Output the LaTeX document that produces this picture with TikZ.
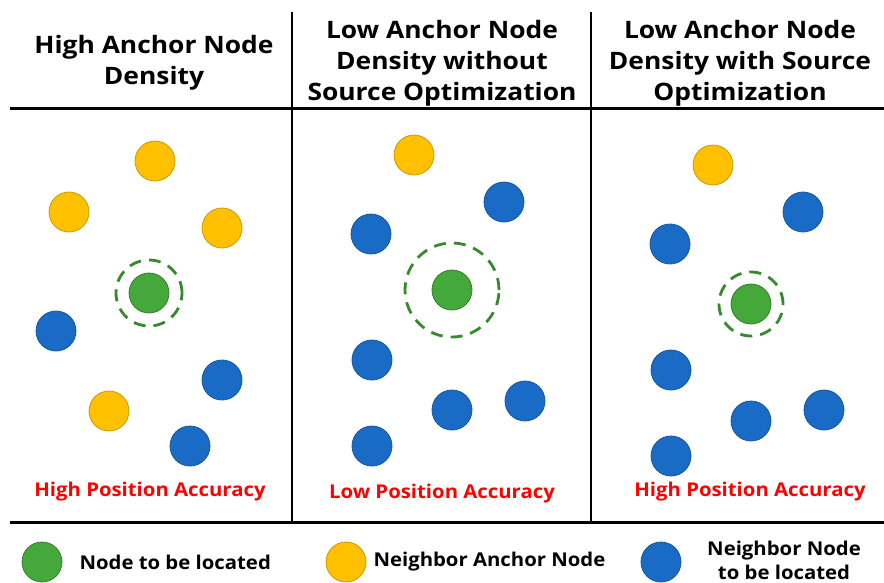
\documentclass[tikz,border=0pt]{standalone}
\usepackage{fontspec}
\setmainfont{Open Sans}
\newfontfamily\headfont[FakeStretch=1.1]{Open Sans}
\newfontfamily\notefont[FakeStretch=1.07]{Open Sans}
\begin{document}
\begin{tikzpicture}[x=1pt,y=-1pt,
  rule/.style={line width=3pt,black},
  dot/.style={circle,minimum size=40pt,inner sep=0pt,line width=0.8pt},
  target/.style={dot,fill=ngreen,draw=ngreen!75!black},
  beacon/.style={dot,fill=nyellow,draw=nyellow!80!black},
  unknown/.style={dot,fill=nblue,draw=nblue!80!black},
  ring/.style={circle,draw=rgreen,line width=2.8pt,dash pattern=on 12pt off 8pt,inner sep=0pt},
  title/.style={font=\headfont\bfseries\fontsize{24}{31}\selectfont,align=center},
  verdict/.style={font=\notefont\bfseries\fontsize{19}{20}\selectfont,text=red},
  legend/.style={font=\notefont\bfseries\fontsize{19}{24}\selectfont,align=center}]
\definecolor{ngreen}{HTML}{45A83A}
\definecolor{rgreen}{HTML}{358A2C}
\definecolor{nyellow}{HTML}{FFC000}
\definecolor{nblue}{HTML}{1A6BC6}
\useasboundingbox (0,0) rectangle (884,582);

% frame rules
\coordinate (v1t) at (292,12); \coordinate (v1b) at (292,521);
\coordinate (v2t) at (591,12); \coordinate (v2b) at (591,521);
\coordinate (htl) at (10,108); \coordinate (htr) at (884,108);
\coordinate (hbl) at (10,522); \coordinate (hbr) at (884,522);
\draw[rule] (htl) -- (htr);
\draw[rule] (hbl) -- (hbr);
\draw[rule,line width=2.4pt] (v1t) -- (v1b);
\draw[rule,line width=2.4pt] (v2t) -- (v2b);

% column headings
\node[title] (t1) at (154,63) {High Anchor Node\\Density};
\node[title] (t2) at (442,63) {Low Anchor Node\\Density without\\Source Optimization};
\node[title] (t3) at (740,63) {Low Anchor Node\\Density with Source\\Optimization};

% panel 1: high anchor density
\node[ring,minimum size=66pt] (r1) at (149,293) {};
\node[target] (g1) at (149,293) {};
\node[beacon] (a11) at (155,161) {};
\node[beacon] (a12) at (69,212) {};
\node[beacon] (a13) at (222,228) {};
\node[beacon] (a14) at (109,411) {};
\node[unknown] (b11) at (56,331) {};
\node[unknown] (b12) at (222,380) {};
\node[unknown] (b13) at (190,446) {};
\node[verdict] (v1) at (150,492) {High Position Accuracy};

% panel 2: low anchor density, no optimization
\node[ring,minimum size=94pt] (r2) at (452,290) {};
\node[target] (g2) at (452,290) {};
\node[beacon] (a21) at (414,155) {};
\node[unknown] (b21) at (504,202) {};
\node[unknown] (b22) at (371,234) {};
\node[unknown] (b23) at (372,360) {};
\node[unknown] (b24) at (452,410) {};
\node[unknown] (b25) at (525,401) {};
\node[unknown] (b26) at (372,446) {};
\node[verdict] (v2) at (442,494) {Low Position Accuracy};

% panel 3: low anchor density, source optimization
\node[ring,minimum size=64pt] (r3) at (751,304) {};
\node[target] (g3) at (751,304) {};
\node[beacon] (a31) at (713,165) {};
\node[unknown] (b31) at (803,212) {};
\node[unknown] (b32) at (670,244) {};
\node[unknown] (b33) at (671,370) {};
\node[unknown] (b34) at (751,421) {};
\node[unknown] (b35) at (824,410) {};
\node[unknown] (b36) at (671,456) {};
\node[verdict] (v3) at (750,492) {High Position Accuracy};

% legend
\node[target] (lg) at (42,562) {};
\node[legend,anchor=west] (lgt) at (76,562) {Node to be located};
\node[beacon] (ly) at (346,562) {};
\node[legend,anchor=west] (lyt) at (370,562) {Neighbor Anchor Node};
\node[unknown] (lb) at (661,562) {};
\node[legend] (lbt) at (784,560) {Neighbor Node\\to be located};
\end{tikzpicture}
\end{document}
